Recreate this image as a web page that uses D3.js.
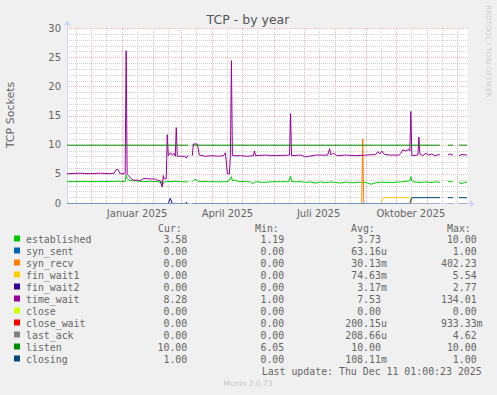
<!DOCTYPE html>
<html>
<head>
<meta charset="utf-8">
<script src="https://cdn.jsdelivr.net/npm/d3@7"></script>
<style>
  body { margin: 0; background: #f0f0f0; }
  svg { display: block; }
</style>
</head>
<body>
<div id="chart"></div>
<script>
// days are counted from 1 Jan 2025, null = no data
const timeWait = [[-55,5.1],[-42,5.2],[-32,5.1],[-22,5.2],[-12,5.1],[-8,5.2],[-6,5.8],[-4,5.8],[-2,5.1],[2,5.1],[3,5.1],[4,26.2],[5,5.0],[6,4.8],[9,4.3],[11,4.0],[16,4.0],[18,3.9],[20,4.2],[24,4.3],[28,4.2],[33,4.2],[35,4.0],[38,3.9],[40,2.8],[41,4.8],[42,4.2],[44,4.3],[45,11.8],[46,8.2],[48,8.7],[50,8.3],[52,8.6],[53,8.1],[54,13.0],[55,8.1],[58,8.1],[62,8.1],[64,7.8],[66,8.3],[67,null],[70,8.2],[71,10.2],[75,10.2],[77,8.3],[83,8.1],[90,8.2],[96,8.1],[101,8.2],[103,8.7],[105,5.1],[107,5.1],[108,8.2],[109,24.5],[110,8.2],[118,8.2],[125,8.1],[131,8.2],[132,9.0],[133,8.2],[143,8.3],[153,8.2],[167,8.3],[168,15.4],[169,8.2],[178,8.3],[183,8.0],[193,8.3],[205,8.3],[207,9.4],[208,8.4],[211,8.6],[214,8.2],[223,8.3],[233,8.2],[243,8.3],[253,8.4],[255,8.9],[257,8.5],[259,9.0],[261,8.5],[263,8.4],[268,8.3],[276,8.3],[278,8.6],[280,9.2],[283,9.0],[286,9.3],[287,9.0],[288,15.8],[289,8.2],[294,8.3],[295,8.3],[296,11.4],[297,8.5],[300,8.2],[303,8.6],[306,8.3],[309,8.5],[312,8.2],[316,8.4],[317,8.3],[318,null],[325,8.3],[327,8.5],[330,8.3],[331,null],[336,8.2],[339,8.4],[344,8.3]];

const established = [[-55,3.75],[-42,3.75],[-22,3.75],[-7,3.8],[-4,3.85],[-2,3.75],[2,3.75],[3,3.8],[4,4.9],[5,4.3],[7,4.0],[10,3.9],[14,3.9],[18,3.8],[21,3.75],[28,3.8],[36,3.75],[39,3.5],[40,3.9],[41,3.4],[43,3.8],[45,3.75],[53,3.8],[58,3.75],[64,3.7],[66,3.75],[67,null],[70,3.75],[72,4.1],[74,4.1],[76,3.75],[88,3.75],[100,3.7],[103,3.75],[106,3.8],[109,4.6],[110,3.9],[113,4.0],[116,3.75],[123,3.75],[128,3.7],[130,3.4],[132,3.6],[134,3.75],[140,3.6],[148,3.7],[158,3.75],[166,3.7],[168,4.7],[169,3.8],[173,3.7],[178,3.75],[183,3.6],[188,3.7],[193,3.5],[198,3.7],[203,3.55],[208,3.7],[218,3.5],[223,3.7],[228,3.55],[238,3.65],[243,3.6],[248,3.3],[251,3.45],[254,3.6],[258,3.65],[268,3.6],[278,3.7],[283,3.8],[287,3.9],[288,4.6],[289,3.9],[291,3.7],[298,3.6],[303,3.7],[308,3.6],[313,3.7],[317,3.65],[318,null],[325,3.8],[328,3.7],[330,3.75],[331,null],[336,3.6],[339,3.4],[341,3.6],[344,3.7]];

const zeroLine = [[-55,0],[66,0],[67,null],[70,0],[317,0],[318,null],[325,0],[330,0],[331,null],[336,0],[344,0]];
const synRecv = [[-55,0],[66,0],[67,null],[70,0],[239,0],[240,11.1],[241,0],[317,0],[318,null],[325,0],[330,0],[331,null],[336,0],[344,0]];
const finWait1 = [[-55,0],[66,0],[67,null],[70,0],[258,0],[261,1],[287,1],[289,0],[317,0],[318,null],[325,0],[330,0],[331,null],[336,0],[344,0]];
const finWait2 = [[-55,0],[46,0],[48,0.9],[50,0],[63,0],[64,0.2],[65,0],[66,0],[67,null],[70,0],[317,0],[318,null],[325,0],[330,0],[331,null],[336,0],[344,0]];
const listen = [[-55,10],[66,10],[67,null],[70,10],[317,10],[318,null],[325,10],[330,10],[331,null],[336,10],[344,10]];
const closing = [[-55,0],[66,0],[67,null],[70,0],[287,0],[289,1],[317,1],[318,null],[325,1],[330,1],[331,null],[336,1],[344,1]];

const names = ["established","syn_sent","syn_recv","fin_wait1","fin_wait2","time_wait","close","close_wait","last_ack","listen","closing"];
const colors = ["#00cc00","#0066b3","#ff8000","#ffcc00","#330099","#990099","#ccff00","#ff0000","#808080","#008f00","#00487d"];
const seriesData = [established, zeroLine, synRecv, finWait1, finWait2, timeWait, zeroLine, zeroLine, zeroLine, listen, closing];
const curVals = ["3.58","0.00","0.00","0.00","0.00","8.28","0.00","0.00","0.00","10.00","1.00"];
const minVals = ["1.19","0.00","0.00","0.00","0.00","1.00","0.00","0.00","0.00","6.05","0.00"];
const avgVals = ["3.73","63.16u","30.13m","74.63m","3.17m","7.53","0.00","200.15u","208.66u","10.00","108.11m"];
const maxVals = ["10.00","1.00","402.23","5.54","2.77","134.01","0.00","933.33m","4.62","10.00","1.00"];
const yTicks = [0, 5, 10, 15, 20, 25, 30];
const xLabels = ["Januar 2025", "April 2025", "Juli 2025", "Oktober 2025"];
const xLabelMonths = [0, 3, 6, 9];

const W = 497, H = 395;
const plot = { left: 67, right: 468, top: 28, bottom: 203 };
const jan1 = new Date(Date.UTC(2025, 0, 1));
const day = d => d3.utcDay.offset(jan1, d);

const x = d3.scaleUtc().domain([day(-55), day(345)]).range([plot.left, plot.right]);
const y = d3.scaleLinear().domain([0, 30]).range([plot.bottom, plot.top]);

const svg = d3.select("#chart").append("svg")
  .attr("width", W).attr("height", H)
  .style("font-family", "'DejaVu Sans', sans-serif");

svg.append("rect").attr("width", W).attr("height", H).attr("fill", "#f0f0f0");
svg.append("rect")
  .attr("x", plot.left).attr("y", plot.top)
  .attr("width", plot.right - plot.left).attr("height", plot.bottom - plot.top)
  .attr("fill", "#ffffff");

// grid: minor first, then major
const grid = svg.append("g").attr("stroke-width", 1).attr("stroke-dasharray", "1,1").attr("fill", "none");
const months = d3.utcMonth.range(day(-55), day(346));
const midMonths = months.map(m => d3.utcDay.offset(m, 15)).concat([d3.utcDay.offset(d3.utcMonth.floor(day(-55)), 15)])
  .filter(d => d > day(-55) && d < day(345));
const minorColor = "#d2d2d2", majorColor = "#ebb4b4";

grid.selectAll(".hmin").data(d3.range(1, 30).filter(v => v % 5 != 0)).enter().append("line")
  .attr("x1", plot.left).attr("x2", plot.right)
  .attr("y1", d => Math.round(y(d)) + 0.5).attr("y2", d => Math.round(y(d)) + 0.5)
  .attr("stroke", minorColor);
grid.selectAll(".vmin").data(midMonths).enter().append("line")
  .attr("x1", d => Math.round(x(d)) + 0.5).attr("x2", d => Math.round(x(d)) + 0.5)
  .attr("y1", plot.top).attr("y2", plot.bottom)
  .attr("stroke", minorColor);
grid.selectAll(".hmaj").data(yTicks.filter(v => v > 0)).enter().append("line")
  .attr("x1", plot.left).attr("x2", plot.right)
  .attr("y1", d => Math.round(y(d)) + 0.5).attr("y2", d => Math.round(y(d)) + 0.5)
  .attr("stroke", majorColor);
grid.selectAll(".vmaj").data(months).enter().append("line")
  .attr("x1", d => Math.round(x(d)) + 0.5).attr("x2", d => Math.round(x(d)) + 0.5)
  .attr("y1", plot.top).attr("y2", plot.bottom)
  .attr("stroke", majorColor);

// axes
const axisColor = "#cfd6f8";
svg.append("line").attr("x1", plot.left + 0.5).attr("x2", plot.left + 0.5)
  .attr("y1", plot.bottom).attr("y2", plot.top - 4).attr("stroke", axisColor);
svg.append("path").attr("d", `M${plot.left - 3},${plot.top - 3}L${plot.left + 4},${plot.top - 3}L${plot.left + 0.5},${plot.top - 8}Z`).attr("fill", axisColor);
svg.append("line").attr("x1", plot.left).attr("x2", plot.right + 4)
  .attr("y1", plot.bottom + 0.5).attr("y2", plot.bottom + 0.5).attr("stroke", axisColor);
svg.append("path").attr("d", `M${plot.right + 2},${plot.bottom - 3}L${plot.right + 2},${plot.bottom + 4}L${plot.right + 7},${plot.bottom + 0.5}Z`).attr("fill", axisColor);

// series lines
const line = d3.line()
  .defined(d => d[1] !== null)
  .x(d => x(day(d[0])))
  .y(d => y(d[1]) + 0.5);

svg.append("g").selectAll("path").data(seriesData).enter().append("path")
  .attr("d", d => line(d))
  .attr("fill", "none")
  .attr("stroke", (d, i) => colors[i])
  .attr("stroke-width", 1);

// zero row gets the axis tint over the stacked zero lines
svg.append("line").attr("x1", plot.left).attr("x2", plot.right)
  .attr("y1", plot.bottom + 0.5).attr("y2", plot.bottom + 0.5)
  .attr("stroke", axisColor).attr("stroke-opacity", 0.55);

// tick labels
svg.append("g").selectAll("text").data(yTicks).enter().append("text")
  .attr("x", 61).attr("y", d => y(d) + 3.6)
  .attr("text-anchor", "end").attr("font-size", 10).attr("fill", "#666")
  .text(d => d);

svg.append("g").selectAll("text").data(xLabels).enter().append("text")
  .attr("x", (d, i) => x(d3.utcDay.offset(d3.utcMonth.offset(jan1, xLabelMonths[i]), 15)))
  .attr("y", 216.5)
  .attr("text-anchor", "middle").attr("font-size", 10).attr("fill", "#666")
  .text(d => d);

svg.append("text")
  .attr("x", 248).attr("y", 24)
  .attr("text-anchor", "middle").attr("font-size", 12.5).attr("fill", "#555")
  .text("TCP - by year");

svg.append("text")
  .attr("transform", "translate(14,115) rotate(-90)")
  .attr("text-anchor", "middle").attr("font-size", 11).attr("fill", "#666")
  .text("TCP Sockets");

svg.append("text")
  .attr("transform", "translate(486,5) rotate(90)")
  .attr("font-size", 7.2).attr("fill", "#cfcfcf")
  .text("RRDTOOL / TOBI OETIKER");

svg.append("text")
  .attr("x", 248).attr("y", 386)
  .attr("text-anchor", "middle").attr("font-size", 7.5).attr("fill", "#c8c8c8")
  .text("Munin 2.0.73");

// legend
const fs = 9.9, cw = fs * 0.602;
const legend = svg.append("g")
  .style("font-family", "'DejaVu Sans Mono', monospace")
  .attr("font-size", fs).attr("fill", "#666");

[["Cur:", 158], ["Min:", 255], ["Avg:", 351], ["Max:", 447]].forEach(h => {
  legend.append("text").attr("x", h[1]).attr("y", 232).text(h[0]);
});

const rows = legend.selectAll(".row").data(names).enter().append("g")
  .attr("transform", (d, i) => "translate(0," + (243 + i * 12) + ")");

rows.append("rect")
  .attr("x", 14).attr("y", -7.5).attr("width", 6).attr("height", 6)
  .attr("fill", (d, i) => colors[i]);
rows.append("text").attr("x", 26).text(d => d);

const numX = (s, end) => end - s.replace(/[a-zA-Z]$/, "").length * cw;
rows.append("text").attr("x", (d, i) => numX(curVals[i], 187.3)).text((d, i) => curVals[i]);
rows.append("text").attr("x", (d, i) => numX(minVals[i], 284.3)).text((d, i) => minVals[i]);
rows.append("text").attr("x", (d, i) => numX(avgVals[i], 381)).text((d, i) => avgVals[i]);
rows.append("text").attr("x", (d, i) => numX(maxVals[i], 476.7)).text((d, i) => maxVals[i]);

legend.append("text").attr("x", 261.7).attr("y", 375)
  .text("Last update: Thu Dec 11 01:00:23 2025");
</script>
</body>
</html>
